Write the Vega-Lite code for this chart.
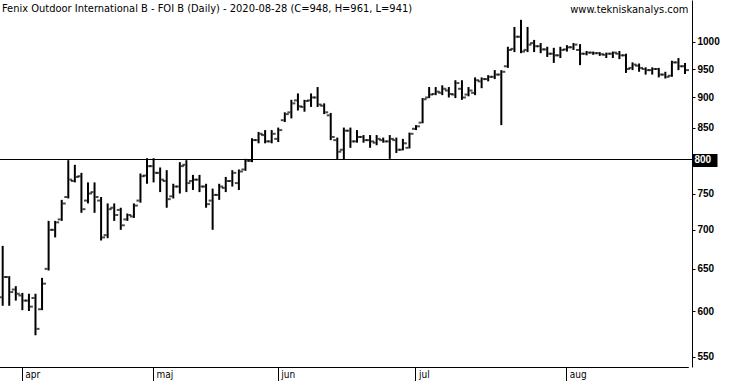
{
  "$schema": "https://vega.github.io/schema/vega-lite/v6.json",
  "width": 692,
  "height": 367,
  "autosize": "none",
  "padding": {"left": 0, "top": 0, "right": 40, "bottom": 14},
  "background": "white",
  "config": {"view": {"stroke": null}},
  "title": {"text": "Fenix Outdoor International B - FOI B (Daily) - 2020-08-28 (C=948, H=961, L=941)", "anchor": "start", "frame": "group", "offset": -14, "dx": 2, "font": "Liberation Sans Narrow, DejaVu Sans Condensed, Arial", "fontSize": 11, "fontWeight": "normal", "color": "black"},
  "data": {"values": [
    {"d":"2020-03-30","o":616,"h":679,"l":606,"c":640},
    {"d":"2020-03-31","o":640,"h":641,"l":606,"c":622},
    {"d":"2020-04-01","o":625,"h":629,"l":612,"c":620},
    {"d":"2020-04-02","o":618,"h":621,"l":601,"c":612},
    {"d":"2020-04-03","o":612,"h":620,"l":600,"c":605},
    {"d":"2020-04-06","o":615,"h":620,"l":573,"c":580},
    {"d":"2020-04-07","o":602,"h":639,"l":601,"c":632},
    {"d":"2020-04-08","o":650,"h":712,"l":648,"c":700},
    {"d":"2020-04-09","o":700,"h":712,"l":690,"c":710},
    {"d":"2020-04-14","o":714,"h":741,"l":712,"c":736},
    {"d":"2020-04-15","o":745,"h":799,"l":743,"c":770},
    {"d":"2020-04-16","o":768,"h":792,"l":766,"c":774},
    {"d":"2020-04-17","o":775,"h":780,"l":723,"c":728},
    {"d":"2020-04-20","o":740,"h":766,"l":736,"c":750},
    {"d":"2020-04-21","o":752,"h":766,"l":723,"c":745},
    {"d":"2020-04-22","o":740,"h":745,"l":686,"c":690},
    {"d":"2020-04-23","o":693,"h":736,"l":689,"c":728},
    {"d":"2020-04-24","o":730,"h":736,"l":712,"c":720},
    {"d":"2020-04-27","o":727,"h":730,"l":700,"c":706},
    {"d":"2020-04-28","o":714,"h":722,"l":712,"c":720},
    {"d":"2020-04-29","o":718,"h":736,"l":716,"c":733},
    {"d":"2020-04-30","o":740,"h":779,"l":737,"c":775},
    {"d":"2020-05-04","o":776,"h":802,"l":764,"c":790},
    {"d":"2020-05-05","o":790,"h":802,"l":766,"c":780},
    {"d":"2020-05-06","o":780,"h":788,"l":752,"c":770},
    {"d":"2020-05-07","o":768,"h":784,"l":730,"c":742},
    {"d":"2020-05-08","o":746,"h":764,"l":743,"c":760},
    {"d":"2020-05-11","o":760,"h":796,"l":750,"c":790},
    {"d":"2020-05-12","o":792,"h":799,"l":752,"c":765},
    {"d":"2020-05-13","o":768,"h":777,"l":755,"c":770},
    {"d":"2020-05-14","o":770,"h":777,"l":752,"c":760},
    {"d":"2020-05-15","o":760,"h":764,"l":730,"c":735},
    {"d":"2020-05-18","o":740,"h":757,"l":700,"c":748},
    {"d":"2020-05-19","o":748,"h":764,"l":741,"c":760},
    {"d":"2020-05-20","o":758,"h":774,"l":752,"c":768},
    {"d":"2020-05-22","o":768,"h":784,"l":760,"c":780},
    {"d":"2020-05-25","o":765,"h":785,"l":755,"c":782},
    {"d":"2020-05-26","o":785,"h":801,"l":783,"c":798},
    {"d":"2020-05-27","o":798,"h":833,"l":796,"c":830},
    {"d":"2020-05-28","o":830,"h":843,"l":825,"c":840},
    {"d":"2020-05-29","o":838,"h":846,"l":825,"c":828},
    {"d":"2020-06-01","o":828,"h":846,"l":825,"c":840},
    {"d":"2020-06-02","o":832,"h":850,"l":827,"c":846},
    {"d":"2020-06-03","o":862,"h":875,"l":859,"c":872},
    {"d":"2020-06-04","o":875,"h":896,"l":865,"c":890},
    {"d":"2020-06-05","o":895,"h":907,"l":878,"c":885},
    {"d":"2020-06-08","o":884,"h":896,"l":876,"c":894},
    {"d":"2020-06-09","o":895,"h":907,"l":884,"c":900},
    {"d":"2020-06-10","o":900,"h":918,"l":884,"c":888},
    {"d":"2020-06-11","o":886,"h":890,"l":872,"c":875},
    {"d":"2020-06-12","o":870,"h":874,"l":830,"c":835},
    {"d":"2020-06-15","o":830,"h":834,"l":800,"c":812},
    {"d":"2020-06-16","o":815,"h":850,"l":800,"c":845},
    {"d":"2020-06-17","o":845,"h":850,"l":818,"c":828},
    {"d":"2020-06-18","o":828,"h":846,"l":826,"c":835},
    {"d":"2020-06-22","o":835,"h":838,"l":826,"c":830},
    {"d":"2020-06-23","o":830,"h":838,"l":818,"c":828},
    {"d":"2020-06-24","o":826,"h":838,"l":822,"c":832},
    {"d":"2020-06-25","o":830,"h":834,"l":826,"c":828},
    {"d":"2020-06-26","o":828,"h":838,"l":801,"c":832},
    {"d":"2020-06-29","o":830,"h":834,"l":810,"c":815},
    {"d":"2020-06-30","o":815,"h":832,"l":814,"c":825},
    {"d":"2020-07-01","o":818,"h":842,"l":817,"c":840},
    {"d":"2020-07-02","o":848,"h":854,"l":846,"c":852},
    {"d":"2020-07-03","o":858,"h":899,"l":857,"c":897},
    {"d":"2020-07-06","o":900,"h":918,"l":899,"c":905},
    {"d":"2020-07-07","o":906,"h":918,"l":904,"c":910},
    {"d":"2020-07-08","o":908,"h":921,"l":904,"c":915},
    {"d":"2020-07-09","o":912,"h":918,"l":900,"c":906},
    {"d":"2020-07-10","o":905,"h":930,"l":899,"c":925},
    {"d":"2020-07-13","o":915,"h":930,"l":896,"c":900},
    {"d":"2020-07-14","o":905,"h":918,"l":902,"c":912},
    {"d":"2020-07-15","o":908,"h":935,"l":904,"c":930},
    {"d":"2020-07-16","o":928,"h":935,"l":916,"c":932},
    {"d":"2020-07-17","o":932,"h":939,"l":928,"c":936},
    {"d":"2020-07-20","o":936,"h":948,"l":932,"c":940},
    {"d":"2020-07-21","o":940,"h":948,"l":854,"c":945},
    {"d":"2020-07-22","o":955,"h":991,"l":952,"c":985},
    {"d":"2020-07-23","o":987,"h":1029,"l":981,"c":1010},
    {"d":"2020-07-24","o":1010,"h":1043,"l":979,"c":982},
    {"d":"2020-07-27","o":985,"h":1029,"l":981,"c":995},
    {"d":"2020-07-28","o":998,"h":1004,"l":981,"c":992},
    {"d":"2020-07-29","o":992,"h":998,"l":979,"c":986},
    {"d":"2020-07-30","o":986,"h":991,"l":972,"c":978},
    {"d":"2020-07-31","o":978,"h":989,"l":961,"c":975},
    {"d":"2020-08-03","o":975,"h":991,"l":970,"c":985},
    {"d":"2020-08-04","o":986,"h":994,"l":982,"c":990},
    {"d":"2020-08-05","o":990,"h":998,"l":985,"c":995},
    {"d":"2020-08-06","o":985,"h":996,"l":957,"c":978},
    {"d":"2020-08-07","o":978,"h":983,"l":975,"c":980},
    {"d":"2020-08-10","o":980,"h":982,"l":976,"c":979},
    {"d":"2020-08-11","o":979,"h":981,"l":974,"c":977},
    {"d":"2020-08-12","o":976,"h":980,"l":970,"c":978},
    {"d":"2020-08-13","o":978,"h":982,"l":970,"c":980},
    {"d":"2020-08-14","o":978,"h":983,"l":968,"c":975},
    {"d":"2020-08-17","o":975,"h":978,"l":943,"c":950},
    {"d":"2020-08-18","o":952,"h":962,"l":948,"c":958},
    {"d":"2020-08-19","o":956,"h":960,"l":945,"c":952},
    {"d":"2020-08-20","o":950,"h":953,"l":940,"c":948},
    {"d":"2020-08-21","o":948,"h":953,"l":940,"c":950},
    {"d":"2020-08-24","o":950,"h":952,"l":935,"c":940},
    {"d":"2020-08-25","o":940,"h":945,"l":933,"c":936},
    {"d":"2020-08-26","o":938,"h":965,"l":936,"c":962},
    {"d":"2020-08-27","o":962,"h":970,"l":948,"c":955},
    {"d":"2020-08-28","o":955,"h":961,"l":941,"c":948}
  ]},
  "layer": [
    {
      "encoding": {
        "x": {
          "field": "d", "type": "ordinal",
          "scale": {"range": [-0.6, 688.3], "paddingInner": 0, "paddingOuter": 0},
          "axis": {
            "values": ["2020-04-01", "2020-05-04", "2020-06-01", "2020-07-01", "2020-08-03"],
            "labelExpr": "datum.value == '2020-04-01' ? 'apr' : datum.value == '2020-05-04' ? 'maj' : datum.value == '2020-06-01' ? 'jun' : datum.value == '2020-07-01' ? 'jul' : 'aug'",
            "title": null, "orient": "bottom",
            "domainColor": "black", "domainWidth": 1,
            "tickColor": "black", "tickSize": 15, "tickWidth": 1, "tickOffset": 6,
            "labelAlign": "left", "labelBaseline": "middle", "labelOffset": 3, "labelPadding": -8, "labelAngle": 0,
            "labelFont": "DejaVu Sans Condensed, Liberation Sans Narrow, Arial", "labelFontSize": 10, "labelColor": "black"
          }
        }
      },
      "layer": [
        {
          "mark": {"type": "rule", "color": "black", "strokeWidth": 2},
          "encoding": {
            "y": {
              "field": "l", "type": "quantitative",
              "scale": {"type": "log", "domain": [539.5, 1083], "nice": false, "zero": false},
              "axis": {
                "orient": "right", "values": [550, 600, 650, 700, 750, 800, 850, 900, 950, 1000], "format": "d",
                "grid": false, "domainColor": "black", "domainWidth": 1,
                "tickColor": "black",
                "tickSize": {"condition": {"test": "datum.value == 800", "value": 25}, "value": 3},
                "tickWidth": {"condition": {"test": "datum.value == 800", "value": 13}, "value": 1},
                "labelColor": {"condition": {"test": "datum.value == 800", "value": "white"}, "value": "black"},
                "labelPadding": {"condition": {"test": "datum.value == 800", "value": -23}, "value": 2},
                "labelFont": "Liberation Sans, Arial", "labelFontSize": 10, "labelFontWeight": "bold",
                "labelBaseline": "middle",
                "title": "www.tekniskanalys.com", "titleAngle": 0, "titleAlign": "right", "titleBaseline": "alphabetic",
                "titleX": -4, "titleY": 12, "titleFont": "Liberation Sans Narrow, DejaVu Sans Condensed, Arial",
                "titleFontSize": 11, "titleFontWeight": "normal", "titleColor": "black"
              }
            },
            "y2": {"field": "h"}
          }
        },
        {
          "mark": {"type": "tick", "color": "black", "orient": "horizontal", "size": 3, "thickness": 2, "xOffset": -2.5},
          "encoding": {"y": {"field": "o", "type": "quantitative"}}
        },
        {
          "mark": {"type": "tick", "color": "black", "orient": "horizontal", "size": 3, "thickness": 2, "xOffset": 2.5},
          "encoding": {"y": {"field": "c", "type": "quantitative"}}
        }
      ]
    },
    {
      "data": {"values": [{"level": 800}]},
      "mark": {"type": "rule", "color": "black", "strokeWidth": 1},
      "encoding": {"y": {"field": "level", "type": "quantitative"}}
    }
  ]
}
